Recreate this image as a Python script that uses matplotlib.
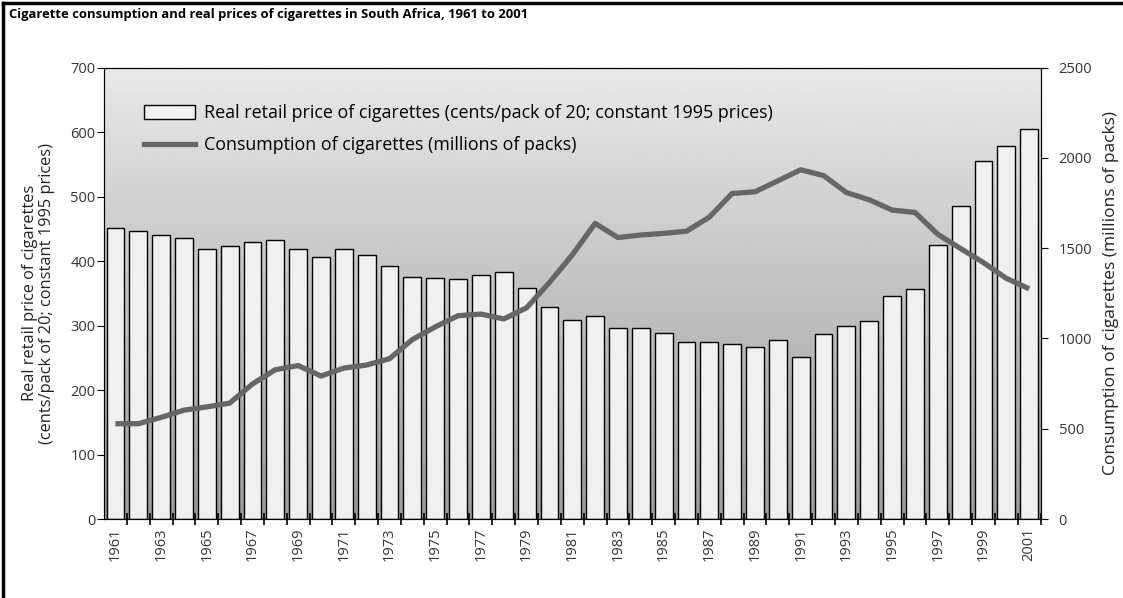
import numpy as np
import matplotlib.pyplot as plt
from matplotlib.patches import Patch
from matplotlib.lines import Line2D

plt.rcParams['font.family'] = ['Open Sans', 'DejaVu Sans']

# data
years = list(range(1961, 2002))
price = [451, 446, 440, 435, 418, 424, 430, 432, 418, 407,
         418, 409, 393, 376, 374, 372, 378, 383, 359, 329,
         308, 315, 296, 296, 289, 274, 274, 272, 267, 278,
         251, 287, 300, 307, 346, 357, 425, 485, 555, 579,
         605]
consumption = [528, 528, 563, 603, 621, 642, 748, 827, 850, 792,
               836, 853, 888, 994, 1064, 1126, 1135, 1108, 1170, 1310,
               1463, 1637, 1559, 1573, 1582, 1594, 1672, 1803, 1812, 1873,
               1934, 1902, 1808, 1768, 1711, 1698, 1577, 1498, 1420, 1333,
               1275]
label_years = years[::2]

fig = plt.figure(figsize=(11.23, 5.98), dpi=100)
ax = fig.add_axes([0.0926, 0.132, 0.834, 0.755])

# grey gradient background
grad = np.linspace(0.61, 0.91, 256).reshape(-1, 1)
ax.imshow(grad, cmap='gray', vmin=0, vmax=1, origin='lower', aspect='auto',
          extent=[0, 1, 0, 1], transform=ax.transAxes, zorder=0)

ax.bar(years, price, width=0.78, color='#f0f0f0', edgecolor='black',
       linewidth=1.0, zorder=2)
ax.set_xlim(1960.5, 2001.5)
ax.set_ylim(0, 700)
ax.set_yticks(range(0, 701, 100))
ax.tick_params(axis='y', direction='out', length=5, labelsize=10.5,
               labelcolor='#333333', pad=1)

# ticks between bars, year labels on bar centres
ax.set_xticks([y - 0.5 for y in years[1:]] + [2001.5])
ax.set_xticklabels([])
ax.tick_params(axis='x', which='major', direction='inout', length=8, width=1.2)
ax.set_xticks(label_years, minor=True)
ax.set_xticklabels([str(y) for y in label_years], minor=True, rotation=90,
                   fontsize=10.5, color='#333333')
ax.tick_params(axis='x', which='minor', length=0, pad=6)

ax.set_ylabel('Real retail price of cigarettes\n(cents/pack of 20; constant 1995 prices)',
              fontsize=11.8, color='#222222', labelpad=11, linespacing=1.1)

ax2 = ax.twinx()
ax2.plot(years, consumption, color='#666666', linewidth=3.8,
         solid_capstyle='butt', zorder=3)
ax2.set_ylim(0, 2500)
ax2.set_yticks(range(0, 2501, 500))
ax2.tick_params(axis='y', direction='out', length=5, labelsize=10.5,
                labelcolor='#333333', pad=8)
ax2.set_ylabel('Consumption of cigarettes (millions of packs)', fontsize=12.5,
               color='#222222', labelpad=8)

handles = [Patch(facecolor='#f0f0f0', edgecolor='black', linewidth=1.0),
           Line2D([0], [0], color='#666666', linewidth=3.8)]
labels = ['Real retail price of cigarettes (cents/pack of 20; constant 1995 prices)',
          'Consumption of cigarettes (millions of packs)']
ax2.legend(handles, labels, loc='upper left', bbox_to_anchor=(0.025, 0.955),
           frameon=False, fontsize=12.9, handlelength=2.9, handleheight=0.8,
           labelspacing=0.8, handletextpad=0.45)

fig.text(0.008, 0.975, 'Cigarette consumption and real prices of cigarettes in South Africa, 1961 to 2001',
         fontsize=9.4, fontweight='bold', va='center', ha='left')

# outer frame lines (top and left)
fig.add_artist(Line2D([0.003, 1.0], [0.995, 0.995], color='black', linewidth=2.5,
                      transform=fig.transFigure))
fig.add_artist(Line2D([0.003, 0.003], [0.0, 0.995], color='black', linewidth=2.5,
                      transform=fig.transFigure))

plt.savefig('out.png', dpi=100)
